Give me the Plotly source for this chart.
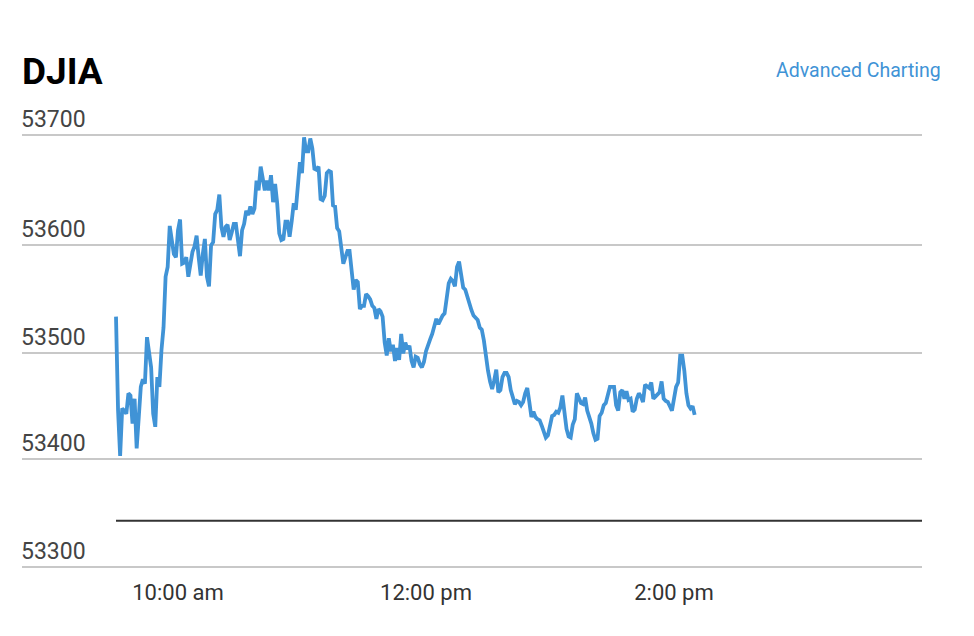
"""DJIA intraday chart, one point per minute from the open."""

import pandas as pd
import plotly.graph_objects as go

# minute closes from 9:30 am
djia_values = [
    53532, 53445, 53403, 53447, 53445, 53442, 53461, 53459, 53433, 53456,
    53410, 53436, 53467, 53474, 53470, 53513, 53501, 53485, 53442, 53430,
    53476, 53467, 53501, 53522, 53569, 53578, 53616, 53603, 53590, 53587,
    53612, 53622, 53581, 53582, 53587, 53569, 53581, 53592, 53597, 53607,
    53587, 53570, 53590, 53604, 53569, 53560, 53598, 53601, 53627, 53631,
    53645, 53615, 53606, 53615, 53617, 53603, 53610, 53618, 53618, 53603,
    53588, 53612, 53618, 53630, 53626, 53634, 53627, 53632, 53658, 53649,
    53671, 53660, 53649, 53658, 53649, 53663, 53638, 53655, 53637, 53609,
    53603, 53604, 53620, 53620, 53606, 53620, 53637, 53631, 53658, 53675,
    53665, 53698, 53685, 53685, 53697, 53688, 53669, 53668, 53671, 53641,
    53640, 53644, 53665, 53667, 53666, 53635, 53634, 53614, 53611, 53593,
    53581, 53587, 53593, 53593, 53575, 53557, 53566, 53564, 53539, 53542,
    53542, 53553, 53551, 53548, 53542, 53540, 53530, 53539, 53537, 53532,
    53508, 53496, 53512, 53500, 53506, 53491, 53503, 53492, 53516, 53498,
    53508, 53502, 53505, 53491, 53485, 53495, 53494, 53488, 53485, 53490,
    53500, 53507, 53511, 53516, 53525, 53530, 53525, 53530, 53533, 53535,
    53552, 53563, 53567, 53565, 53560, 53578, 53583, 53570, 53559, 53557,
    53550, 53544, 53538, 53533, 53531, 53529, 53522, 53520, 53510, 53495,
    53482, 53472, 53465, 53473, 53483, 53462, 53464, 53476, 53480, 53480,
    53476, 53464, 53456, 53451, 53454, 53453, 53450, 53453, 53461, 53466,
    53453, 53439, 53444, 53439, 53437, 53436, 53431, 53425, 53420, 53422,
    53431, 53440, 53441, 53444, 53443, 53448, 53459, 53443, 53428, 53421,
    53420, 53432, 53437, 53461, 53457, 53452, 53451, 53457, 53445, 53439,
    53433, 53424, 53418, 53419, 53440, 53443, 53450, 53452, 53461, 53467,
    53467, 53467, 53450, 53445, 53462, 53464, 53456, 53463, 53455, 53456,
    53444, 53446, 53456, 53461, 53458, 53453, 53469, 53467, 53466, 53471,
    53456, 53458, 53460, 53462, 53472, 53456, 53454, 53453, 53449, 53445,
    53456, 53467, 53471, 53496, 53496, 53482, 53461, 53450, 53447, 53449,
    53441,
]
minutes = pd.date_range("2025-01-02 09:30", periods=len(djia_values), freq="min")

session_ends = ["2025-01-02 09:30", "2025-01-02 16:00"]
prev_close = [53343, 53343]

# the source grid is not quite even, so these sit where its lines sit
y_tick_vals = [53700, 53598, 53498, 53400, 53300]
y_tick_text = ["53700", "53600", "53500", "53400", "53300"]
x_tick_vals = ["2025-01-02 10:00", "2025-01-02 12:00", "2025-01-02 14:00"]
x_tick_text = ["10:00 am", "12:00 pm", "2:00 pm"]

BLUE = "#4093d6"
INK = "#333333"
GRID = "#c8c8c8"

fig = go.Figure()
fig.add_trace(go.Scatter(
    x=session_ends,
    y=prev_close,
    mode="lines",
    line=dict(color=INK, width=2),
    hoverinfo="skip",
))
fig.add_trace(go.Scatter(
    x=minutes,
    y=djia_values,
    mode="lines",
    line=dict(color=BLUE, width=3.8),
))

fig.add_annotation(
    text="<b>DJIA</b>", xref="paper", yref="paper", x=-0.002, y=1.0698,
    xanchor="left", yanchor="middle", showarrow=False,
    font=dict(family="Roboto", size=37, color="#000000"),
)
fig.add_annotation(
    text="Advanced Charting", xref="paper", yref="paper", x=1.0233, y=1.0719,
    xanchor="right", yanchor="middle", showarrow=False,
    font=dict(family="Roboto", size=19.5, color=BLUE),
)

# the page has an 8px body margin, so the figure is 16px smaller than the window
# y range runs past 53700 so plotly keeps the label that sits above that line
fig.update_layout(
    width=958,
    height=620,
    showlegend=False,
    paper_bgcolor="#ffffff",
    plot_bgcolor="#ffffff",
    margin=dict(l=14, r=44, t=97, b=50),
    font=dict(family="Roboto", size=23, color=INK),
    xaxis=dict(
        type="date",
        range=["2025-01-02 08:44:31", "2025-01-02 16:00"],
        tickmode="array",
        tickvals=x_tick_vals,
        ticktext=x_tick_text,
        tickfont=dict(size=22),
        showgrid=False,
        zeroline=False,
        showline=False,
        ticks="",
        ticklabelstandoff=-1,
    ),
    yaxis=dict(
        range=[53290, 53728],
        tickmode="array",
        tickvals=y_tick_vals,
        ticktext=y_tick_text,
        ticklabelposition="inside top",
        ticklabelstandoff=-4,
        showgrid=True,
        gridcolor=GRID,
        gridwidth=1.5,
        zeroline=False,
        showline=False,
        ticks="",
    ),
)

fig.write_html("out.html")
